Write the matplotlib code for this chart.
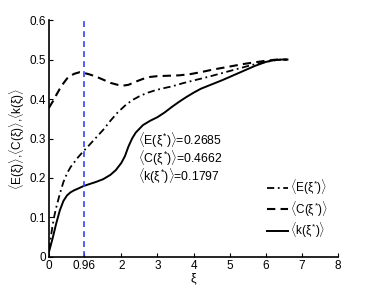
import matplotlib
matplotlib.use("Agg")
import matplotlib.pyplot as plt

plt.rcParams["font.family"] = ["Liberation Sans", "DejaVu Sans"]
plt.rcParams["mathtext.fontset"] = "custom"
plt.rcParams["mathtext.rm"] = "Liberation Sans"
plt.rcParams["mathtext.it"] = "Liberation Sans"

# curves
xi_k = [0.0, 0.05, 0.1, 0.15, 0.2, 0.3, 0.4, 0.5, 0.6, 0.7, 0.8, 0.96, 1.1,
        1.3, 1.5, 1.7, 1.85, 2.0, 2.1, 2.2, 2.3, 2.4, 2.6, 2.8, 3.0, 3.2, 3.4,
        3.6, 3.8, 4.0, 4.2, 4.5, 4.8, 5.1, 5.4, 5.7, 6.0, 6.2, 6.4, 6.6]
k_val = [0.013, 0.03, 0.047, 0.066, 0.085, 0.118, 0.142, 0.156, 0.164, 0.169,
         0.173, 0.1797, 0.184, 0.19, 0.197, 0.208, 0.22, 0.238, 0.255, 0.28,
         0.3, 0.315, 0.334, 0.345, 0.354, 0.366, 0.38, 0.393, 0.405, 0.416,
         0.426, 0.437, 0.448, 0.46, 0.472, 0.484, 0.494, 0.498, 0.5, 0.5]

xi_e = [0.0, 0.05, 0.1, 0.15, 0.2, 0.3, 0.4, 0.5, 0.6, 0.7, 0.8, 0.96, 1.1,
        1.3, 1.5, 1.7, 1.9, 2.1, 2.3, 2.5, 2.7, 2.9, 3.1, 3.4, 3.7, 4.0, 4.4,
        4.8, 5.2, 5.6, 6.0, 6.3, 6.6]
e_val = [0.017, 0.05, 0.08, 0.105, 0.125, 0.16, 0.19, 0.212, 0.228, 0.24,
         0.252, 0.2685, 0.282, 0.302, 0.322, 0.345, 0.366, 0.383, 0.397,
         0.407, 0.415, 0.421, 0.426, 0.432, 0.44, 0.447, 0.456, 0.466, 0.476,
         0.486, 0.494, 0.499, 0.5]

xi_c = [0.0, 0.1, 0.2, 0.3, 0.4, 0.5, 0.6, 0.7, 0.85, 0.96, 1.1, 1.3, 1.5,
        1.7, 1.9, 2.05, 2.2, 2.4, 2.6, 2.8, 3.0, 3.3, 3.6, 3.9, 4.2, 4.5, 4.8,
        5.1, 5.4, 5.7, 6.0, 6.3, 6.6]
c_val = [0.378, 0.393, 0.41, 0.426, 0.44, 0.452, 0.459, 0.464, 0.468, 0.4662,
         0.463, 0.457, 0.449, 0.441, 0.436, 0.434, 0.436, 0.444, 0.451, 0.456,
         0.458, 0.459, 0.46, 0.463, 0.468, 0.474, 0.479, 0.484, 0.489, 0.493,
         0.497, 0.5, 0.5]

xi_star = 0.96
stats = ["E", "C", "k"]
stat_vals = [0.2685, 0.4662, 0.1797]

xticks = [0, 0.96, 2, 3, 4, 5, 6, 7, 8]
xticklabels = ["0", "0.96", "2", "3", "4", "5", "6", "7", "8"]
yticks = [0, 0.1, 0.2, 0.3, 0.4, 0.5, 0.6]
yticklabels = ["0", "0.1", "0.2", "0.3", "0.4", "0.5", "0.6"]

fig = plt.figure(figsize=(3.74, 2.91), dpi=100)
ax = fig.add_axes([0.131, 0.117, 0.773, 0.814])

ax.plot(xi_e, e_val, color="black", lw=1.3, linestyle=(0, (4, 2, 1, 2)),
        label=r"$\langle$E($\xi^{*}$)$\rangle$")
ax.plot(xi_c, c_val, color="black", lw=1.5, linestyle=(0, (4, 2.5)),
        label=r"$\langle$C($\xi^{*}$)$\rangle$")
ax.plot(xi_k, k_val, color="black", lw=1.4, linestyle="-",
        label=r"$\langle$k($\xi^{*}$)$\rangle$")

ax.plot([xi_star, xi_star], [0, 0.6], color="#3344ee", lw=1.2,
        linestyle=(0, (3.5, 2.5)))

# 0.96 지점의 값들
for i, (name, v) in enumerate(zip(stats, stat_vals)):
    ax.text(2.47, 0.296 - i * 0.046,
            r"$\langle$" + name + r"($\xi^{*}$)$\rangle$=" + f"{v:.4f}",
            fontsize=8.8, va="center", ha="left")

ax.set_xlim(0, 8)
ax.set_ylim(0, 0.6)
ax.set_xticks(xticks)
ax.set_xticklabels(xticklabels)
ax.set_yticks(yticks)
ax.set_yticklabels(yticklabels)
ax.tick_params(direction="in", length=3, labelsize=8.5, pad=2)
ax.spines["top"].set_visible(False)
ax.spines["right"].set_visible(False)
ax.spines["left"].set_linewidth(1.2)
ax.spines["bottom"].set_linewidth(1.2)

ax.set_xlabel(r"$\xi$", fontsize=9, labelpad=0)
ax.set_ylabel(r"$\langle$E($\xi$)$\rangle$,$\langle$C($\xi$)$\rangle$,$\langle$k($\xi$)$\rangle$",
              fontsize=8.5, labelpad=2)

ax.legend(loc="lower right", frameon=False, fontsize=8.5, handlelength=1.8,
          handletextpad=0.15, labelspacing=0.2, borderpad=0,
          borderaxespad=0, bbox_to_anchor=(0.965, 0.07))

fig.savefig("out.png", dpi=100)
